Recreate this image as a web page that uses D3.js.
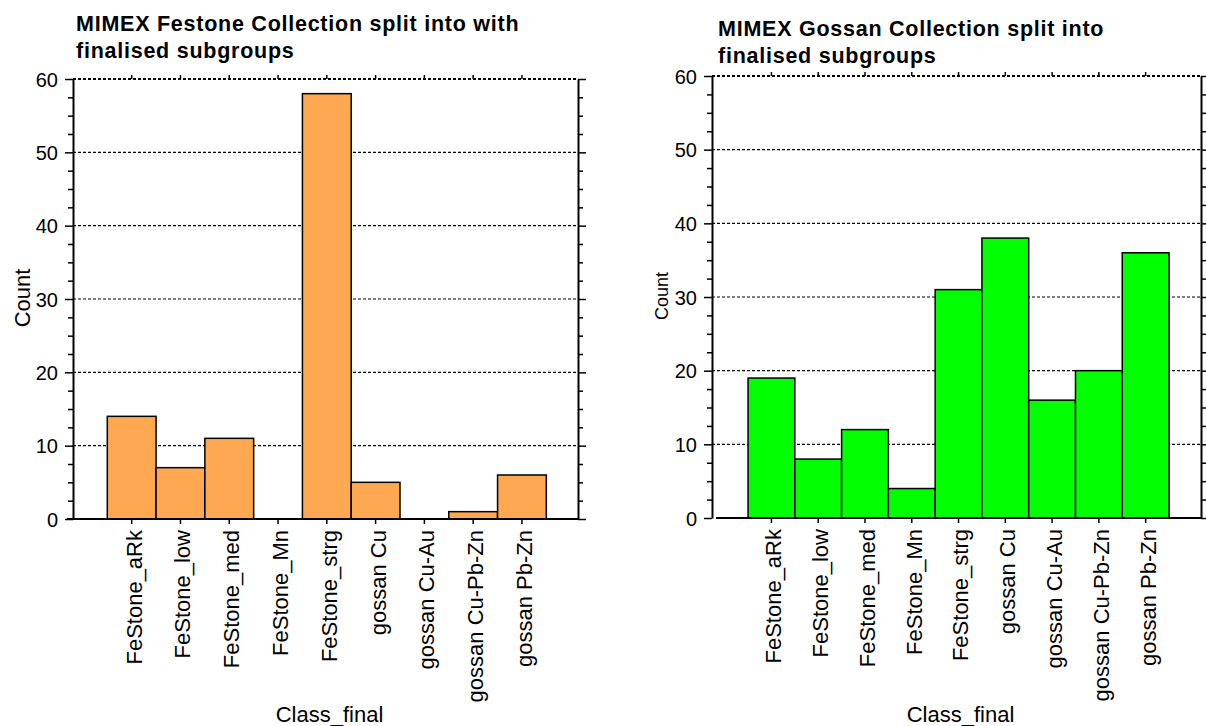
<!DOCTYPE html>
<html>
<head>
<meta charset="utf-8">
<script src="https://cdn.jsdelivr.net/npm/d3@7"></script>
<style>
  body { margin: 0; background: #fff; }
  svg { display: block; font-family: "Liberation Sans", Arial, sans-serif; }
</style>
</head>
<body>
<div id="chart"></div>
<script>
// DATA
const classes = ["FeStone_aRk", "FeStone_low", "FeStone_med", "FeStone_Mn", "FeStone_strg",
  "gossan Cu", "gossan Cu-Au", "gossan Cu-Pb-Zn", "gossan Pb-Zn"];
const festoneCounts = [14, 7, 11, 0, 58, 5, 0, 1, 6];
const gossanCounts = [19, 8, 12, 4, 31, 38, 16, 20, 36];
const yTicks = [0, 10, 20, 30, 40, 50, 60];
const festoneTitle = ["MIMEX Festone Collection split into with", "finalised subgroups"];
const gossanTitle = ["MIMEX Gossan Collection split into", "finalised subgroups"];

const width = 1206, height = 726;

const svg = d3.select("#chart")
  .append("svg")
  .attr("width", width)
  .attr("height", height);

function drawPanel(p) {
  const g = svg.append("g");

  const x = d3.scaleBand()
    .domain(classes)
    .range([p.left, p.right])
    .paddingInner(0)
    .paddingOuter(p.pad)
    .align(p.align);

  const y = d3.scaleLinear()
    .domain([0, 60])
    .range([p.bottom, p.top]);

  // dashed grid lines
  g.append("g")
    .selectAll("line")
    .data(yTicks.filter(d => d > 0))
    .join("line")
      .attr("x1", p.left)
      .attr("x2", p.right)
      .attr("y1", d => y(d))
      .attr("y2", d => y(d))
      .attr("stroke", "#000")
      .attr("stroke-width", d => d === 60 ? 2 : 1.2)
      .attr("stroke-dasharray", "3,2");

  // bars
  g.append("g")
    .selectAll("rect")
    .data(p.values)
    .join("rect")
      .attr("x", (d, i) => x(classes[i]))
      .attr("y", d => y(d))
      .attr("width", x.bandwidth())
      .attr("height", d => y(0) - y(d))
      .attr("fill", p.color)
      .attr("stroke", "#000")
      .attr("stroke-width", 1.5);

  // left axis
  const yMinor = d3.range(0, 60.1, 2.5).filter(d => d % 10 !== 0);
  g.append("g")
    .attr("transform", `translate(${p.left},0)`)
    .call(d3.axisLeft(y).tickValues(yMinor).tickSize(5).tickFormat(""))
    .call(a => a.select(".domain").remove())
    .call(a => a.selectAll("line").attr("stroke-width", 1.5));
  g.append("g")
    .attr("transform", `translate(${p.left},0)`)
    .call(d3.axisLeft(y).tickValues(yTicks).tickSize(8).tickPadding(7).tickSizeOuter(0))
    .call(a => a.select(".domain").attr("stroke-width", 2))
    .call(a => a.selectAll("line").attr("stroke-width", 1.5))
    .call(a => a.selectAll("text")
      .attr("font-size", 20)
      .attr("fill", "#000")
      .attr("dy", "0.36em"));

  // right axis
  g.append("g")
    .attr("transform", `translate(${p.right},0)`)
    .call(d3.axisRight(y).tickValues(yMinor).tickSize(5).tickFormat(""))
    .call(a => a.select(".domain").remove())
    .call(a => a.selectAll("line").attr("stroke-width", 1.5));
  g.append("g")
    .attr("transform", `translate(${p.right},0)`)
    .call(d3.axisRight(y).tickValues(yTicks).tickSize(8).tickFormat("").tickSizeOuter(0))
    .call(a => a.select(".domain").attr("stroke-width", 2))
    .call(a => a.selectAll("line").attr("stroke-width", 1.5));

  // top ticks
  g.append("g")
    .attr("transform", `translate(0,${p.top})`)
    .call(d3.axisTop(x).tickSize(4).tickFormat("").tickSizeOuter(0))
    .call(a => a.select(".domain").remove())
    .call(a => a.selectAll("line").attr("stroke-width", 1.5));

  // bottom axis
  g.append("line")
    .attr("x1", p.left + p.gap)
    .attr("x2", p.right)
    .attr("y1", y(0))
    .attr("y2", y(0))
    .attr("stroke", "#000")
    .attr("stroke-width", 2);
  g.append("g")
    .attr("transform", `translate(0,${p.bottom})`)
    .call(d3.axisBottom(x).tickSize(5).tickSizeOuter(0))
    .call(a => a.select(".domain").remove())
    .call(a => a.selectAll("line").attr("stroke-width", 1.5))
    .call(a => a.selectAll("text")
      .attr("font-size", 22)
      .attr("fill", "#000")
      .attr("text-anchor", "end")
      .attr("transform", "rotate(-90)")
      .attr("x", -11)
      .attr("y", 0)
      .attr("dy", "0.45em"));

  // axis titles
  g.append("text")
    .attr("x", (p.left + p.right) / 2 + 4)
    .attr("y", 722)
    .attr("text-anchor", "middle")
    .attr("font-size", 22)
    .text("Class_final");

  g.append("text")
    .attr("transform", `translate(${p.countX},${(p.top + p.bottom) / 2 - 1}) rotate(-90)`)
    .attr("text-anchor", "middle")
    .attr("dy", "0.36em")
    .attr("font-size", p.countSize)
    .text("Count");

  // title
  g.append("g")
    .selectAll("text")
    .data(p.title)
    .join("text")
      .attr("x", p.titleX)
      .attr("y", (d, i) => p.titleY + i * 27)
      .attr("font-size", 21.5)
      .attr("font-weight", "bold")
      .attr("letter-spacing", 0.75)
      .text(d => d);
}

drawPanel({
  left: 73, right: 578, top: 79, bottom: 519, pad: 0.676, align: 0.52, gap: -6,
  values: festoneCounts, color: "#ffa852",
  title: festoneTitle, titleX: 76, titleY: 31, countX: 22, countSize: 22
});

drawPanel({
  left: 712, right: 1201, top: 76, bottom: 518, pad: 0.727, align: 0.53, gap: 4,
  values: gossanCounts, color: "#00ff00",
  title: gossanTitle, titleX: 718, titleY: 36, countX: 662, countSize: 18
});
</script>
</body>
</html>
